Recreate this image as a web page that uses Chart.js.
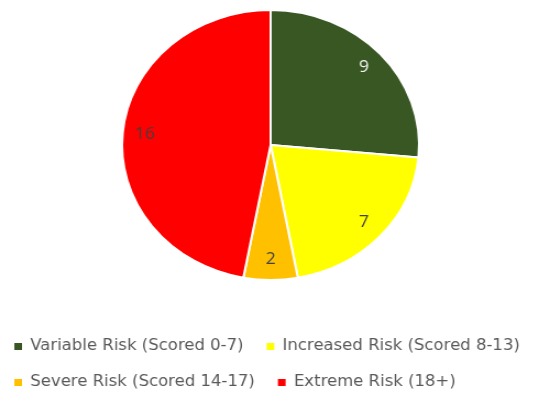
<!DOCTYPE html>
<html>
<head>
<meta charset="utf-8">
<script src="https://cdn.jsdelivr.net/npm/chart.js@4"></script>
<style>
  html, body { margin: 0; padding: 0; background: #fff; overflow: hidden; }
  #wrap { width: 492px; height: 395px; transform: scaleX(1.1); transform-origin: 0 0; }
</style>
</head>
<body>
<div id="wrap"><canvas id="risk" width="492" height="395"></canvas></div>
<script>
var categories = [
  'Variable Risk (Scored 0-7)',
  'Increased Risk (Scored 8-13)',
  'Severe Risk (Scored 14-17)',
  'Extreme Risk (18+)'
];
var counts = [9, 7, 2, 16];
var sliceColors = ['#385723', '#FFFF00', '#FFC000', '#FF0000'];
var labelColors = ['#F2F2F2', '#404040', '#404040', '#404040'];

// draws the value inside each slice
var valueLabels = {
  id: 'valueLabels',
  afterDatasetsDraw: function(chart) {
    var ctx = chart.ctx;
    var meta = chart.getDatasetMeta(0);
    ctx.save();
    ctx.font = '16px "Open Sans"';
    ctx.textAlign = 'center';
    ctx.textBaseline = 'middle';
    meta.data.forEach(function(arc, i) {
      var p = arc.getProps(['x', 'y', 'startAngle', 'endAngle', 'outerRadius'], true);
      var mid = (p.startAngle + p.endAngle) / 2;
      var r = p.outerRadius * 0.85;
      ctx.fillStyle = labelColors[i];
      ctx.fillText(String(counts[i]), p.x + Math.cos(mid) * r, p.y + Math.sin(mid) * r);
    });
    ctx.restore();
  }
};

var riskCtx = document.getElementById('risk').getContext('2d');
var riskChart = new Chart(riskCtx, {
  type: 'pie',
  data: {
    labels: categories,
    datasets: [{
      data: counts,
      backgroundColor: sliceColors,
      borderColor: '#FFFFFF',
      borderWidth: 2,
      radius: 135
    }]
  },
  options: {
    responsive: false,
    animation: false,
    layout: { padding: { top: 0, bottom: -5, left: -8, right: -8 } },
    plugins: {
      tooltip: { enabled: false },
      legend: {
        position: 'bottom',
        align: 'start',
        title: { display: true, text: '', padding: 0, font: { size: 12, lineHeight: '28px' } },
        labels: {
          usePointStyle: true,
          pointStyle: 'rect',
          boxWidth: 7,
          boxHeight: 7,
          padding: 21,
          color: '#595959',
          font: { family: '"DejaVu Sans"', size: 15 },
          generateLabels: function(chart) {
            var items = Chart.overrides.pie.plugins.legend.labels.generateLabels(chart);
            items.forEach(function(item) { item.lineWidth = 0; });
            return items;
          }
        }
      }
    }
  },
  plugins: [valueLabels]
});
</script>
</body>
</html>
